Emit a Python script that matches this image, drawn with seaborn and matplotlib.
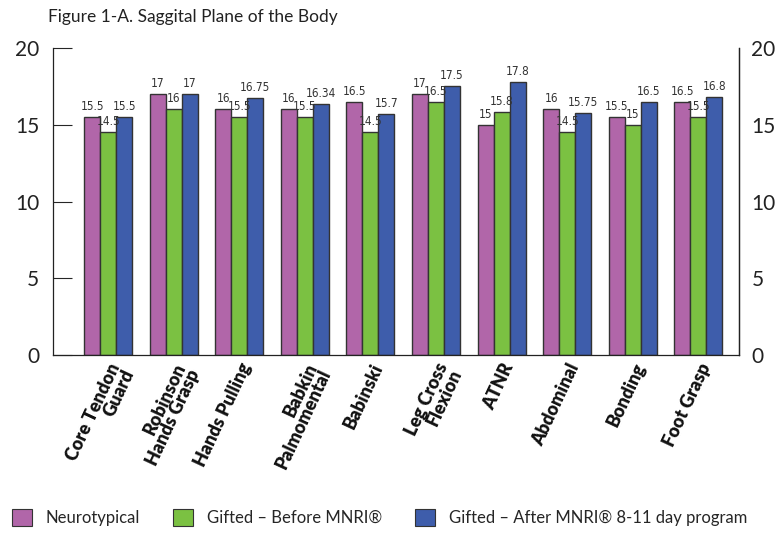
import matplotlib

matplotlib.use("Agg")

import matplotlib.pyplot as plt  # noqa: E402
import pandas as pd  # noqa: E402
import seaborn as sns  # noqa: E402
from matplotlib.patches import Patch  # noqa: E402

reflexes = [
    "Core Tendon\nGuard", "Robinson\nHands Grasp", "Hands Pulling",
    "Babkin\nPalmomental", "Babinski", "Leg Cross\nFlexion", "ATNR",
    "Abdominal", "Bonding", "Foot Grasp",
]
groups = [
    "Neurotypical",
    "Gifted \u2013 Before MNRI\u00ae",
    "Gifted \u2013 After MNRI\u00ae 8-11 day program",
]
neurotypical = [15.5, 17, 16, 16, 16.5, 17, 15, 16, 15.5, 16.5]
gifted_before = [14.5, 16, 15.5, 15.5, 14.5, 16.5, 15.8, 14.5, 15, 15.5]
gifted_after = [15.5, 17, 16.75, 16.34, 15.7, 17.5, 17.8, 15.75, 16.5, 16.8]
colors = ["#B166A9", "#7BC142", "#3E5DAB"]

df = pd.DataFrame({
    "reflex": reflexes * 3,
    "group": [g for g in groups for _ in reflexes],
    "score": neurotypical + gifted_before + gifted_after,
})

sns.set_style("white")
plt.rcParams["font.family"] = ["Lato", "DejaVu Sans"]

fig = plt.figure(figsize=(7.83, 5.36), dpi=100)
ax = fig.add_axes([0.0677, 0.3377, 0.8761, 0.5727])

sns.barplot(
    data=df, x="reflex", y="score", hue="group", order=reflexes,
    hue_order=groups, palette=colors, saturation=1, width=0.73,
    edgecolor="#333333", linewidth=1.0, errorbar=None, legend=False, ax=ax,
)

for cont in ax.containers:
    ax.bar_label(cont, labels=[f"{v:g}" for v in cont.datavalues],
                 padding=3, fontsize=8.5, color="#333333",
                 fontfamily="DejaVu Sans", fontstretch="condensed")

ax.set_xlim(-0.84, 9.62)
ax.set_ylim(0, 20)
ax.set_yticks([0, 5, 10, 15, 20])
ax.set_xlabel("")
ax.set_ylabel("")
ax.tick_params(axis="y", direction="in", length=14, width=0.8,
               labelsize=15, pad=10, left=True, labelcolor="#222222")
ax.tick_params(axis="x", length=0, pad=4)
ax.set_xticks(range(len(reflexes)))
ax.set_xticklabels(reflexes, rotation=65, ha="right", rotation_mode="anchor",
                   fontsize=13, fontweight="heavy", linespacing=0.85,
                   color="#111111")
for side in ["left", "bottom", "right"]:
    ax.spines[side].set_color("#222222")
    ax.spines[side].set_linewidth(0.9)
ax.spines["top"].set_visible(False)

ax2 = ax.twinx()
ax2.set_ylim(0, 20)
ax2.set_yticks([0, 5, 10, 15, 20])
ax2.tick_params(axis="y", length=0, labelsize=15, pad=9,
                labelcolor="#222222")
for side in ["left", "bottom", "top"]:
    ax2.spines[side].set_visible(False)
ax2.spines["right"].set_color("#222222")
ax2.spines["right"].set_linewidth(0.9)

fig.text(0.0613, 0.968, "Figure 1-A. Saggital Plane of the Body",
         fontsize=12.5, va="center", ha="left", color="#222222")

handles = [Patch(facecolor=c, edgecolor="#333333", linewidth=0.8)
           for c in colors]
fig.legend(handles, groups, loc="center", bbox_to_anchor=(0.485, 0.035),
           ncol=3, frameon=False, fontsize=12, handlelength=1.2,
           handleheight=1.2, columnspacing=2.0, handletextpad=0.8)

fig.savefig("out.png", dpi=100)
